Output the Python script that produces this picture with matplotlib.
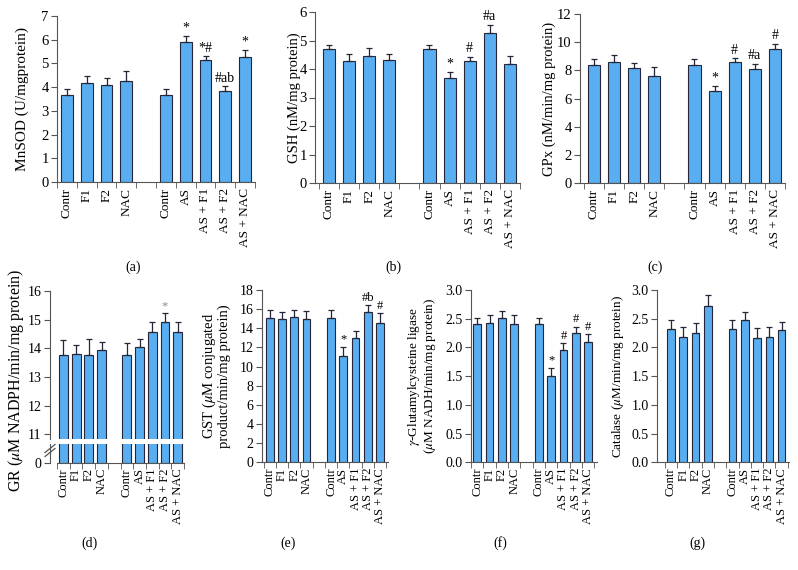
import matplotlib
matplotlib.use("Agg")
import matplotlib.pyplot as plt
import numpy as np

plt.rcParams['font.family'] = ['Liberation Serif', 'DejaVu Serif']
plt.rcParams['mathtext.fontset'] = 'stix'

W, H = 798, 570

groups = ["Contr", "F1", "F2", "NAC", "Contr", "AS", "AS + F1", "AS + F2", "AS + NAC"]
xpos = [0, 1, 2, 3, 5, 6, 7, 8, 9]

mnsod = [3.68, 4.18, 4.08, 4.27, 3.68, 5.9, 5.15, 3.84, 5.29]
mnsod_err = [0.23, 0.27, 0.29, 0.41, 0.23, 0.24, 0.16, 0.2, 0.26]
mnsod_marks = ["", "", "", "", "", "*", "*#", "#ab", "*"]

gsh = [4.7, 4.27, 4.47, 4.33, 4.7, 3.67, 4.28, 5.28, 4.19]
gsh_err = [0.15, 0.25, 0.28, 0.18, 0.15, 0.22, 0.15, 0.27, 0.26]
gsh_marks = ["", "", "", "", "", "*", "#", "#a", ""]

gpx = [8.35, 8.58, 8.18, 7.62, 8.35, 6.52, 8.58, 8.12, 9.55]
gpx_err = [0.45, 0.5, 0.35, 0.6, 0.45, 0.35, 0.3, 0.35, 0.35]
gpx_marks = ["", "", "", "", "", "*", "#", "#a", "#"]

gr = [13.78, 13.8, 13.77, 13.93, 13.78, 14.05, 14.57, 14.9, 14.57]
gr_err = [0.52, 0.3, 0.55, 0.28, 0.42, 0.27, 0.35, 0.32, 0.35]
gr_marks = ["", "", "", "", "", "", "", "*", ""]

gst = [15.1, 15.0, 15.15, 14.97, 15.1, 11.1, 13.0, 15.75, 14.55]
gst_err = [0.8, 0.75, 0.75, 0.8, 0.8, 0.95, 0.7, 0.65, 1.0]
gst_marks = ["", "", "", "", "", "*", "", "#b", "#"]

gcl = [2.4, 2.43, 2.52, 2.41, 2.4, 1.5, 1.95, 2.25, 2.1]
gcl_err = [0.11, 0.14, 0.12, 0.15, 0.11, 0.15, 0.12, 0.11, 0.13]
gcl_marks = ["", "", "", "", "", "*", "#", "#", "#"]

cat = [2.32, 2.18, 2.26, 2.72, 2.32, 2.48, 2.17, 2.18, 2.31]
cat_err = [0.15, 0.18, 0.17, 0.2, 0.15, 0.13, 0.16, 0.17, 0.13]

BAR = '#58aef0'
EDGE = '#26263a'
SPINE = '#555555'

fig = plt.figure(figsize=(W / 100, H / 100), dpi=100)


def px_axes(l, t, r, b):
    return fig.add_axes([l / W, 1 - b / H, (r - l) / W, (b - t) / H])


def style(ax, xlim, fs, show_x=True):
    ax.spines['top'].set_visible(False)
    ax.spines['right'].set_visible(False)
    for s in ['left', 'bottom']:
        ax.spines[s].set_color(SPINE)
    ax.set_xlim(*xlim)
    ax.tick_params(axis='y', direction='out', length=4, color=SPINE, labelsize=fs + 1, pad=2)
    if show_x:
        ax.set_xticks(xpos)
        ax.set_xticklabels(groups, rotation=90, fontsize=fs)
        ax.tick_params(axis='x', which='major', length=0, pad=4)
        ax.set_xticks(np.arange(-0.5, 10, 1), minor=True)
        ax.tick_params(axis='x', which='minor', direction='out', length=4, color=SPINE)
    else:
        ax.set_xticks([])
        ax.spines['bottom'].set_visible(False)


def bars(ax, vals, errs, marks, width, mark_color='black', fs=10):
    ax.bar(xpos, vals, width=width, color=BAR, edgecolor=EDGE, linewidth=0.8, zorder=2)
    ax.errorbar(xpos, vals, yerr=[np.zeros(len(errs)), errs], fmt='none',
                ecolor=EDGE, elinewidth=0.9, capsize=2.5, capthick=0.9, zorder=3)
    for x, v, e, m in zip(xpos, vals, errs, marks):
        if m:
            ax.annotate(m, (x, v + e), xytext=(0, 1), textcoords='offset points',
                        ha='center', va='bottom', fontsize=fs, color=mark_color)


# ---- top row ----
ax = px_axes(57, 16, 255, 182)
bars(ax, mnsod, mnsod_err, mnsod_marks, 0.6)
ax.set_ylim(0, 7)
ax.set_yticks(range(0, 8))
style(ax, (-0.5, 9.4), 9.5)
ax.set_ylabel("MnSOD (U/mgprotein)", fontsize=11, labelpad=9)
fig.text(133 / W, 1 - 267 / H, "(a)", ha='center', va='center', fontsize=10)

ax = px_axes(315, 12, 520, 183)
bars(ax, gsh, gsh_err, gsh_marks, 0.6)
ax.set_ylim(0, 6)
ax.set_yticks(range(0, 7))
style(ax, (-0.69, 9.34), 9.5)
ax.set_ylabel("GSH (nM/mg protein)", fontsize=10.5, labelpad=-1)
fig.text(393 / W, 1 - 267 / H, "(b)", ha='center', va='center', fontsize=10)

ax = px_axes(580, 14, 785, 183)
bars(ax, gpx, gpx_err, gpx_marks, 0.6)
ax.set_ylim(0, 12)
ax.set_yticks(range(0, 13, 2))
style(ax, (-0.69, 9.34), 9.5)
ax.set_ylabel("GPx (nM/min/mg protein)", fontsize=10.5, labelpad=1)
fig.text(655 / W, 1 - 267 / H, "(c)", ha='center', va='center', fontsize=10)

# ---- bottom row ----
# (d) broken axis
xl_d = (-1.06, 9.5)
ax_t = px_axes(50, 291, 184, 439)
bars(ax_t, gr, gr_err, gr_marks, 0.7, mark_color='#8a8a8a', fs=9)
ax_t.set_ylim(10.83, 16)
ax_t.set_yticks(range(11, 17))
style(ax_t, xl_d, 9, show_x=False)
ax_b = px_axes(50, 444, 184, 462.5)
ax_b.bar(xpos, gr, width=0.7, color=BAR, edgecolor=EDGE, linewidth=0.8, zorder=2)
ax_b.set_ylim(0, 1)
ax_b.set_yticks([0])
style(ax_b, xl_d, 9)
ax_b.spines['bottom'].set_bounds(-0.5, 9.5)
for yy in (448.5, 452.5):
    fig.add_artist(plt.Line2D([45 / W, 55 / W], [1 - (yy + 4) / H, 1 - (yy - 4) / H],
                              color=SPINE, lw=0.9))
fig.text(16 / W, 1 - 380 / H, "GR ($\\mu$M NADPH/min/mg protein)", rotation=90,
         ha='center', va='center', fontsize=11.5)
fig.text(90 / W, 1 - 543 / H, "(d)", ha='center', va='center', fontsize=10)

ax = px_axes(262, 290, 388, 462.3)
bars(ax, gst, gst_err, gst_marks, 0.62, fs=9)
ax.set_ylim(0, 18)
ax.set_yticks(range(0, 19, 2))
style(ax, (-0.63, 9.65), 9)
ax.set_ylabel("GST ($\\mu$M conjugated\nproduct/min/mg protein)", fontsize=10.5,
              linespacing=1.0, labelpad=6)
fig.text(288 / W, 1 - 543 / H, "(e)", ha='center', va='center', fontsize=10)

ax = px_axes(471, 290, 597, 462.3)
bars(ax, gcl, gcl_err, gcl_marks, 0.62, fs=9)
ax.set_ylim(0, 3)
ax.set_yticks(np.arange(0, 3.01, 0.5))
ax.set_yticklabels(["%.1f" % v for v in np.arange(0, 3.01, 0.5)])
style(ax, (-0.51, 9.73), 9)
ax.set_ylabel("$\\gamma$-Glutamylcysteine ligase\n($\\mu$M NADH/min/mg protein)", fontsize=9.5,
              linespacing=1.0, labelpad=5)
fig.text(500 / W, 1 - 543 / H, "(f)", ha='center', va='center', fontsize=10)

ax = px_axes(657, 290, 789, 462.3)
bars(ax, cat, cat_err, [""] * 9, 0.62, fs=9)
ax.set_ylim(0, 3)
ax.set_yticks(np.arange(0, 3.01, 0.5))
ax.set_yticklabels(["%.1f" % v for v in np.arange(0, 3.01, 0.5)])
style(ax, (-1.13, 9.6), 9)
ax.set_ylabel("Catalase ($\\mu$M/min/mg protein)", fontsize=9.5)
fig.text(697 / W, 1 - 543 / H, "(g)", ha='center', va='center', fontsize=10)

fig.savefig("out.png", dpi=100)
